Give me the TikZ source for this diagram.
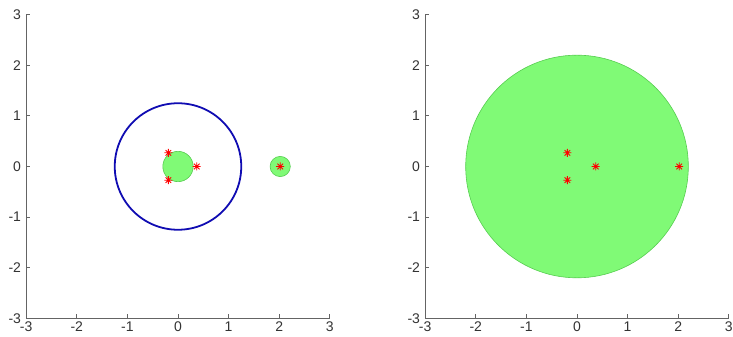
\documentclass[tikz,border=0pt]{standalone}
\usepackage{fontspec}
\setmainfont{Liberation Sans}
\usepackage{tikz}
\usetikzlibrary{arrows.meta}
\definecolor{regiongreen}{RGB}{128,250,118}
\definecolor{edgegreen}{RGB}{86,205,80}
\definecolor{ringblue}{RGB}{16,12,178}
\definecolor{axisgrey}{RGB}{100,100,100}
\tikzset{
  axisline/.style={draw=axisgrey, line width=1.4pt},
  tickmark/.style={draw=axisgrey, line width=0.9pt},
  ticklabel/.style={inner sep=0pt, text=black!80},
  region/.style={fill=regiongreen, draw=edgegreen, line width=0.6pt},
  ring/.style={draw=ringblue, line width=1.8pt},
  mstar/.pic={\draw[red, line width=0.8pt] (-4pt,0) -- (4pt,0) (0,-4pt) -- (0,4pt)
    (-2.8pt,-2.8pt) -- (2.8pt,2.8pt) (-2.8pt,2.8pt) -- (2.8pt,-2.8pt);}
}
\begin{document}
\begin{tikzpicture}[x=50.6pt, y=50.6pt, every node/.style={font=\fontsize{14}{14}\selectfont}]
\useasboundingbox (0pt,0pt) rectangle (733pt,337pt);
\def\Rring{1.25}
\def\rsmall{0.3}
\def\rfar{0.2}
\def\Rbig{2.2}
% left plot
\begin{scope}[shift={(178pt,170.5pt)}]
\draw[ring] (0,0) circle (\Rring);
\draw[region] (0,0) circle (\rsmall);
\draw[region] (2.02,0) circle (\rfar);
\pic at (-0.19,0.27) {mstar};
\pic at (-0.19,-0.27) {mstar};
\pic at (0.37,0) {mstar};
\pic at (2.02,0) {mstar};
\draw[axisline] (-3,3) -- (-3,-3) -- (3,-3);
\foreach \i in {-3,...,3} {
  \draw[tickmark] (\i,-3) -- ++(0,4pt);
  \draw[tickmark] (-3,\i) -- ++(4pt,0);
  \node[ticklabel, anchor=north] (lx\i) at ([yshift=-3pt]\i,-3) {\i};
  \node[ticklabel, anchor=east] (ly\i) at ([xshift=-5pt]-3,\i) {\i};
}
\end{scope}
% right plot
\begin{scope}[shift={(577pt,170.5pt)}]
\draw[region] (0,0) circle (\Rbig);
\pic at (-0.19,0.27) {mstar};
\pic at (-0.19,-0.27) {mstar};
\pic at (0.37,0) {mstar};
\pic at (2.02,0) {mstar};
\draw[axisline] (-3,3) -- (-3,-3) -- (3,-3);
\foreach \i in {-3,...,3} {
  \draw[tickmark] (\i,-3) -- ++(0,4pt);
  \draw[tickmark] (-3,\i) -- ++(4pt,0);
  \node[ticklabel, anchor=north] (rx\i) at ([yshift=-3pt]\i,-3) {\i};
  \node[ticklabel, anchor=east] (ry\i) at ([xshift=-5pt]-3,\i) {\i};
}
\end{scope}
\end{tikzpicture}
\end{document}
